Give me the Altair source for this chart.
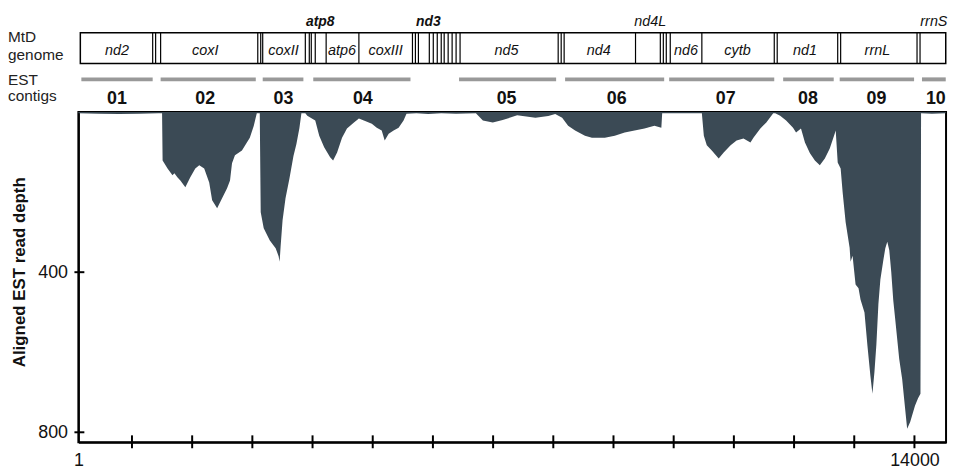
import altair as alt
import pandas as pd

# ---- coverage profile (genome position, aligned EST read depth) ----
positions = [109, 455, 784, 1113, 1443, 1500, 1509, 1591, 1673, 1705, 1754, 1804, 1887, 1969, 2052,
             2118, 2200, 2283, 2332, 2415, 2497, 2580, 2629, 2662, 2711, 2827, 2909, 2958, 3024, 3074,
             3123, 3139, 3189, 3255, 3288, 3337, 3387, 3436, 3453, 3469, 3502, 3551, 3617, 3683, 3732,
             3782, 3815, 3880, 3913, 4045, 4111, 4193, 4292, 4342, 4408, 4490, 4572, 4688, 4770, 4853,
             4985, 5067, 5149, 5199, 5265, 5347, 5430, 5512, 5561, 5726, 5923, 6138, 6385, 6714, 6830,
             6994, 7159, 7400, 7703, 7917, 8032, 8147, 8246, 8362, 8526, 8642, 8856, 9021, 9186, 9350,
             9515, 9680, 9795, 9809, 10171, 10468, 10501, 10550, 10633, 10748, 10831, 10946, 11045, 11160,
             11275, 11325, 11440, 11539, 11654, 11687, 11769, 11868, 11983, 12033, 12115, 12181, 12264,
             12346, 12428, 12511, 12593, 12675, 12692, 12725, 12774, 12807, 12857, 12923, 12939, 12972,
             13022, 13071, 13104, 13170, 13220, 13269, 13302, 13335, 13368, 13401, 13434, 13483, 13516,
             13549, 13582, 13615, 13648, 13681, 13747, 13796, 13829, 13862, 13879, 13929, 14009, 14060,
             14100, 14110, 14290, 14520]
depths = [3, 4, 5, 4, 3, 3, 121, 141, 158, 153, 163, 171, 188, 163, 141,
          133, 141, 176, 220, 240, 215, 190, 171, 128, 108, 96, 76, 64, 34, 3,
          3, 250, 290, 310, 320, 330, 340, 360, 374, 337, 270, 215, 165, 110, 80,
          40, 3, 3, 9, 21, 59, 88, 113, 121, 101, 64, 41, 26, 16, 21,
          29, 39, 46, 71, 54, 46, 39, 21, 4, 3, 5, 3, 4, 3, 21,
          26, 20, 8, 14, 10, 5, 14, 34, 46, 59, 64, 64, 59, 51, 46,
          41, 34, 39, 3, 3, 3, 59, 83, 96, 116, 101, 83, 71, 66,
          76, 64, 41, 26, 3, 3, 9, 21, 39, 51, 41, 76, 103,
          121, 133, 116, 91, 54, 46, 126, 141, 200, 275, 339, 374, 359,
          431, 440, 468, 501, 585, 660, 704, 650, 580, 480, 418, 370, 340,
          324, 345, 400, 470, 518, 617, 667, 717, 766, 791, 774, 734, 715,
          704, 3, 4, 3]

# ---- mitochondrial genome map ----
genome_start = 142
genome_end = 14520
gene_bounds = [1344, 1393, 1476, 3090, 3139, 3172, 3880, 3946, 3979, 4045, 4226, 4770, 5660, 5709,
               5759, 5940, 6006, 6072, 6138, 6187, 6253, 6319, 6385, 6451, 8081, 8131, 8180, 9366,
               9778, 9828, 9877, 9943, 10468, 11671, 11720, 12725, 12774, 14043, 14093]
gene_names = ["nd2", "coxI", "coxII", "atp6", "coxIII", "nd5", "nd4", "nd6", "cytb", "nd1", "rrnL"]
gene_label_pos = [752, 2217, 3518, 4490, 5215, 7224, 8755, 10205, 11061, 12181, 13384]
above_bold_names = ["atp8", "nd3"]
above_bold_pos = [4127, 5923]
above_names = ["nd4L", "rrnS"]
above_pos = [9612, 14323]

# ---- EST contigs ----
contig_ids = ["01", "02", "03", "04", "05", "06", "07", "08", "09", "10"]
contig_start = [159, 1476, 3172, 4012, 6434, 8196, 9925, 11819, 12758, 14125]
contig_end = [1344, 3057, 3848, 5627, 8047, 9842, 11671, 12659, 13994, 14520]
contig_label_pos = [752, 2217, 3518, 4836, 7224, 9054, 10864, 12231, 13368, 14356]

# ---- axes ----
x_domain = [110, 14525]
x_label_values = [110, 14000]
x_tick_values = [1000, 2000, 3000, 4000, 5000, 6000, 7000, 8000, 9000, 10000, 11000, 12000, 13000, 14000]
y_domain = [0, 825]
y_tick_values = [400, 800]

FONT = "Liberation Sans"
W, H = 875, 333

cov = pd.DataFrame({"pos": positions, "depth": depths})
xs = alt.Scale(domain=x_domain, nice=False, zero=False)
ys = alt.Scale(domain=y_domain, reverse=True, nice=False)

area = alt.Chart(cov).mark_area(color="#3b4a55", opacity=1).encode(
    x=alt.X("pos:Q", scale=xs, axis=alt.Axis(
        values=x_label_values, labelExpr="datum.value == 14000 ? '14000' : '1'",
        ticks=False, grid=False, domainColor="black", domainWidth=2,
        labelFontSize=18, labelColor="#111", labelPadding=9, labelFlush=False,
        labelFont=FONT, title=None)),
    y=alt.Y("depth:Q", scale=ys, axis=alt.Axis(
        values=y_tick_values, ticks=False, grid=False, domainColor="black", domainWidth=2,
        labelFontSize=18, labelColor="#111", labelPadding=11, labelFont=FONT,
        title="Aligned EST read depth", titleFontSize=17, titleFont=FONT,
        titleFontWeight="bold", titleColor="#111", titleX=-59, titleY=161,
        titleAngle=270, titleBaseline="middle", titleAlign="center")),
)

xt = alt.Chart(pd.DataFrame({"v": x_tick_values})).mark_rule(color="black", strokeWidth=2).encode(
    x=alt.X("v:Q", scale=xs), y=alt.value(H - 7), y2=alt.value(H + 6))
yt = alt.Chart(pd.DataFrame({"v": y_tick_values})).mark_rule(color="black", strokeWidth=2).encode(
    y=alt.Y("v:Q", scale=ys), x=alt.value(-4), x2=alt.value(6))

box = alt.Chart(pd.DataFrame({"s": [genome_start], "e": [genome_end]})).mark_rect(
    fill="white", stroke="black", strokeWidth=1.5).encode(
    x=alt.X("s:Q", scale=xs), x2="e:Q", y=alt.value(-80), y2=alt.value(-49))
bounds = alt.Chart(pd.DataFrame({"b": gene_bounds})).mark_rule(color="black", strokeWidth=1.2).encode(
    x=alt.X("b:Q", scale=xs), y=alt.value(-80), y2=alt.value(-49))
glab = alt.Chart(pd.DataFrame({"p": gene_label_pos, "t": gene_names})).mark_text(
    font=FONT, fontSize=14.5, fontStyle="italic", color="#111", baseline="alphabetic").encode(
    x=alt.X("p:Q", scale=xs), y=alt.value(-58), text="t:N")
alab_b = alt.Chart(pd.DataFrame({"p": above_bold_pos, "t": above_bold_names})).mark_text(
    font=FONT, fontSize=14, fontStyle="italic", fontWeight="bold", color="#111",
    baseline="alphabetic").encode(
    x=alt.X("p:Q", scale=xs), y=alt.value(-87), text="t:N")
alab = alt.Chart(pd.DataFrame({"p": above_pos, "t": above_names})).mark_text(
    font=FONT, fontSize=14.5, fontStyle="italic", color="#111", baseline="alphabetic").encode(
    x=alt.X("p:Q", scale=xs), y=alt.value(-87), text="t:N")

cbar = alt.Chart(pd.DataFrame({"s": contig_start, "e": contig_end})).mark_rule(
    color="#999999", strokeWidth=4, strokeCap="butt").encode(
    x=alt.X("s:Q", scale=xs), x2="e:Q", y=alt.value(-33))
clab = alt.Chart(pd.DataFrame({"p": contig_label_pos, "t": contig_ids})).mark_text(
    font=FONT, fontSize=18, fontWeight="bold", color="#111", baseline="alphabetic").encode(
    x=alt.X("p:Q", scale=xs), y=alt.value(-8), text="t:N")

side_text = ["MtD", "genome", "EST", "contigs"]
side_y = [-71, -53, -27, -11]
side = alt.Chart(pd.DataFrame({"t": side_text, "yy": side_y})).mark_text(
    font=FONT, fontSize=15.5, color="#222", align="left", baseline="alphabetic").encode(
    x=alt.value(-71), y=alt.Y("yy:Q", scale=None), text="t:N")

chart = alt.layer(area, xt, yt, box, bounds, glab, alab_b, alab, cbar, clab, side).properties(
    width=W, height=H,
    autosize=alt.AutoSizeParams(type="none"),
    padding={"left": 71, "top": 103, "right": 5, "bottom": 30},
    background="white",
).configure_view(stroke="black", strokeWidth=2)

chart.save("out.html", embed_options={"renderer": "svg", "actions": False})
